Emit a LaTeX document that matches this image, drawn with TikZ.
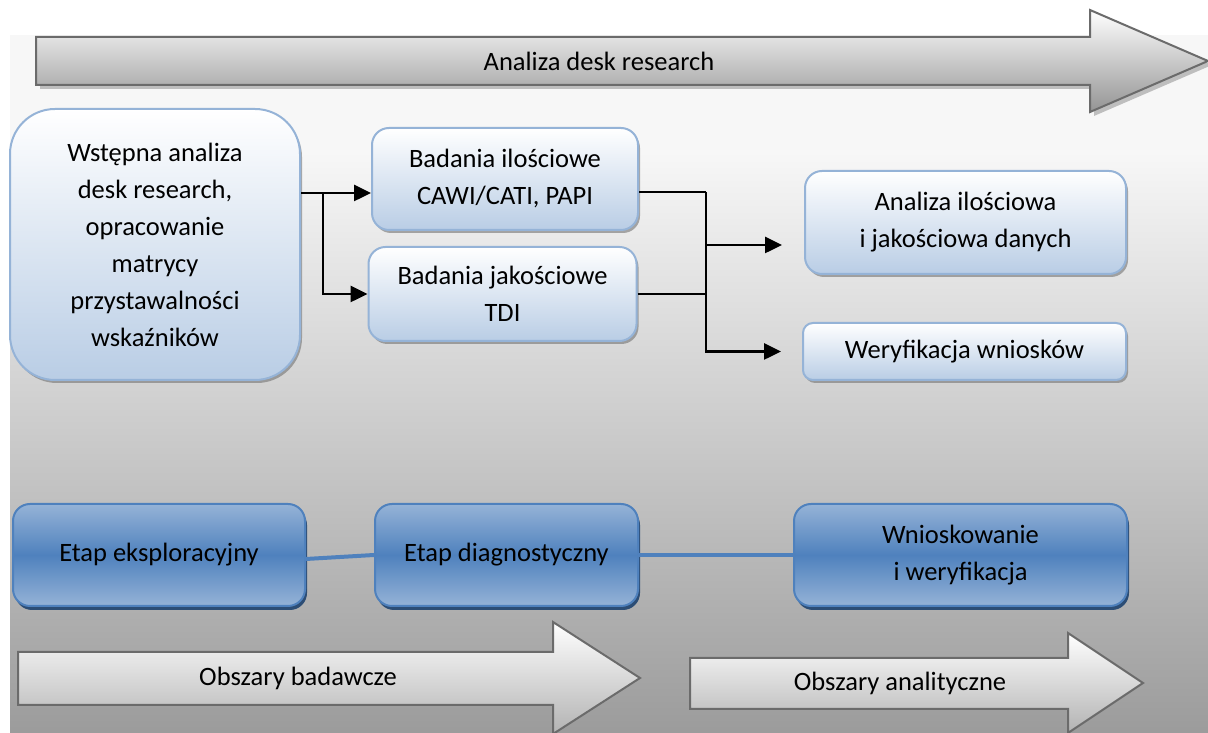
\documentclass[tikz,border=0pt]{standalone}
\usepackage{fontspec}
\setmainfont{Carlito}
\usetikzlibrary{arrows.meta,shadows}
\definecolor{blueedge}{HTML}{95B3D7}
\definecolor{bluelight}{HTML}{B9CDE5}
\definecolor{bluemid}{HTML}{4F81BD}
\definecolor{bluedeep}{HTML}{2C4D75}
\definecolor{arredge}{HTML}{6B6B6B}
\begin{document}
\begin{tikzpicture}[x=1pt,y=1pt,font=\fontsize{26.5}{37}\selectfont,
 lbox/.style={draw=blueedge,line width=2pt,top color=white,bottom color=bluelight,align=center,rounded corners=17pt,
  drop shadow={shadow xshift=2pt,shadow yshift=-3pt,fill=black!55,opacity=.6}},
 dbox/.style={draw=bluemid,line width=2pt,top color=blueedge,bottom color=blueedge,middle color=bluemid,align=center,
  rounded corners=17pt,minimum height=102pt,drop shadow={shadow xshift=2pt,shadow yshift=-4pt,fill=bluedeep,opacity=1}},
 band/.style={draw=arredge,line width=2pt,line join=miter},
 flow/.style={line width=2.6pt,-{Triangle[length=17pt,width=16pt]}},
 feed/.style={line width=1.6pt},
 phase/.style={bluemid,line width=4pt}]
\useasboundingbox (0,0) rectangle (1208,733);
\fill[white] (0,0) rectangle (1208,733);
\fill[black!3] (10,583) rectangle (1208,698);
\shade[top color=black!3,bottom color=black!39] (10,0) rectangle (1208,583.5);
% strzalki tla
\draw[band,top color=white,bottom color=black!42,drop shadow={shadow xshift=4pt,shadow yshift=-4pt,fill=black!40,opacity=.6}]
 (36,696)--(1090,696)--(1090,723)--(1208,672)--(1090,621)--(1090,648)--(36,648)--cycle;
\node (desk) at (599,672) {Analiza desk research};
\draw[band,top color=white,bottom color=black!30] (18,81)--(553,81)--(553,111)--(640,55)--(553,-1)--(553,28)--(18,28)--cycle;
\node (bada) at (298,55) {Obszary badawcze};
\draw[band,top color=white,bottom color=black!30] (690,75)--(1068,75)--(1068,100)--(1143,50)--(1068,0)--(1068,24)--(690,24)--cycle;
\node (anal) at (900,50) {Obszary analityczne};
% etapy
\node[dbox,minimum width=292pt] (eksp) at (159,178) {Etap eksploracyjny};
\node[dbox,minimum width=263pt] (diag) at (506.5,178) {Etap diagnostyczny};
\node[dbox,minimum width=333pt] (wnio) at (960.5,178) {Wnioskowanie\\i weryfikacja};
\draw[phase] ([yshift=-4pt]eksp.east) -- (diag.west);
\draw[phase] (diag.east) -- (wnio.west);
% badania
\node[lbox,minimum width=290pt,minimum height=271pt,rounded corners=45pt] (wst) at (155,488.5)
 {Wstępna analiza\\desk research,\\opracowanie\\matrycy\\przystawalności\\wskaźników};
\node[lbox,minimum width=266pt,minimum height=102pt] (ilo) at (505,554) {Badania ilościowe\\CAWI/CATI, PAPI};
\node[lbox,minimum width=268pt,minimum height=94pt] (jak) at (502.5,439) {Badania jakościowe\\TDI};
\node[lbox,minimum width=321pt,minimum height=103pt] (ana) at (965.5,510.5) {Analiza ilościowa\\i jakościowa danych};
\node[lbox,minimum width=323pt,minimum height=57pt,rounded corners=10pt] (wer) at (964.5,381.5) {Weryfikacja wniosków};
\coordinate (split) at (323,540);
\coordinate (merge) at (706,541);
\coordinate (toana) at (706,488);
\draw[line width=2.6pt] (wst.east |- split) -- (split);
\draw[flow] (split) -- (split -| ilo.west);
\draw[flow] (split) |- (jak.west);
\draw[feed] (ilo.east |- merge) -- (merge);
\draw[feed] (jak.east) -- (jak.east -| merge);
\draw[flow,shorten >=22pt] (toana) -- (toana -| ana.west);
\draw[flow,shorten >=21pt] (merge) |- (wer.west);
\end{tikzpicture}
\end{document}
